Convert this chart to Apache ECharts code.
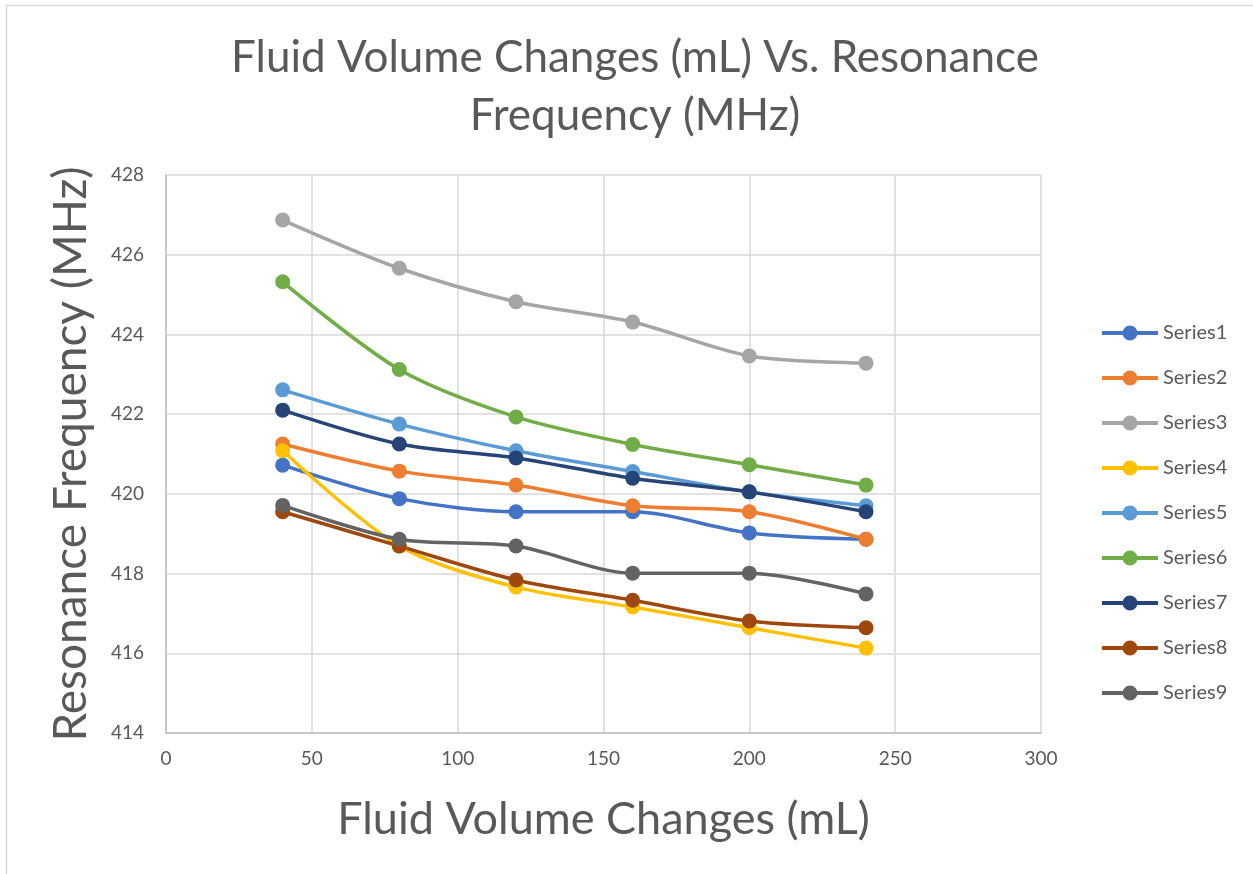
<!DOCTYPE html>
<html>
<head>
<meta charset="utf-8">
<script src="https://cdn.jsdelivr.net/npm/echarts@6/dist/echarts.min.js"></script>
<style>
html,body{margin:0;padding:0;background:#fff;}
#chart{width:1253px;height:874px;}
</style>
</head>
<body>
<div id="chart"></div>
<script>
const xValues = [40, 80, 120, 160, 200, 240];
const series1 = [420.72, 419.88, 419.55, 419.55, 419.02, 418.86];
const series2 = [421.25, 420.57, 420.22, 419.70, 419.55, 418.86];
const series3 = [426.87, 425.66, 424.82, 424.31, 423.46, 423.28];
const series4 = [421.08, 418.69, 417.66, 417.16, 416.64, 416.13];
const series5 = [422.61, 421.75, 421.08, 420.56, 420.05, 419.70];
const series6 = [425.32, 423.12, 421.93, 421.24, 420.73, 420.22];
const series7 = [422.10, 421.25, 420.90, 420.39, 420.05, 419.55];
const series8 = [419.55, 418.69, 417.84, 417.33, 416.81, 416.64];
const series9 = [419.71, 418.86, 418.69, 418.01, 418.01, 417.49];
const seriesNames = ['Series1','Series2','Series3','Series4','Series5','Series6','Series7','Series8','Series9'];
const seriesColors = ['#4472C4','#ED7D31','#A5A5A5','#FFC000','#5B9BD5','#70AD47','#264478','#9E480E','#636363'];
const allSeries = [series1, series2, series3, series4, series5, series6, series7, series8, series9];

const FONT = 'Lato, "Open Sans", "Liberation Sans", sans-serif';
// legend icon: a thick line with a round marker in the middle (both drawn clockwise so they merge)
const LEGEND_ICON = 'path://M0,7 L56,7 L56,11 L0,11 Z M20.5,9 A7.5,7.5 0 1,1 35.5,9 A7.5,7.5 0 1,1 20.5,9 Z';
const chart = echarts.init(document.getElementById('chart'), null, {renderer: 'canvas'});

chart.setOption({
  backgroundColor: '#ffffff',
  animation: false,
  textStyle: {fontFamily: FONT},
  graphic: [{
    type: 'rect',
    shape: {x: 6.5, y: 5.5, width: 1260, height: 880},
    style: {fill: 'none', stroke: '#d9d9d9', lineWidth: 1.5},
    silent: true
  }],
  title: {
    text: 'Fluid Volume Changes (mL) Vs. Resonance\nFrequency (MHz)',
    left: 630,
    top: 24,
    textAlign: 'center',
    textStyle: {fontFamily: FONT, fontSize: 44, fontWeight: 'normal', color: '#595959', lineHeight: 58}
  },
  legend: {
    orient: 'vertical',
    left: 1097,
    top: 318,
    itemWidth: 56,
    itemHeight: 18,
    itemGap: 25,
    icon: LEGEND_ICON,
    data: seriesNames.map(n => ({name: n})),
    textStyle: {fontFamily: FONT, fontSize: 20, color: '#595959'}
  },
  grid: {left: 166, right: 212, top: 175, bottom: 141, containLabel: false},
  xAxis: {
    type: 'value',
    min: 0, max: 300, interval: 50,
    name: 'Fluid Volume Changes (mL)',
    nameLocation: 'middle',
    nameGap: 64,
    nameTextStyle: {fontFamily: FONT, fontSize: 45, color: '#595959'},
    axisLine: {show: true, lineStyle: {color: '#bfbfbf', width: 1.5}},
    axisTick: {show: false},
    axisLabel: {fontFamily: FONT, fontSize: 19, color: '#595959', margin: 16},
    splitLine: {show: true, lineStyle: {color: '#d9d9d9', width: 1.5}}
  },
  yAxis: {
    type: 'value',
    min: 414, max: 428, interval: 2,
    name: 'Resonance Frequency (MHz)',
    nameLocation: 'middle',
    nameGap: 72,
    nameTextStyle: {fontFamily: FONT, fontSize: 46, color: '#595959'},
    axisLine: {show: true, lineStyle: {color: '#bfbfbf', width: 1.5}},
    axisTick: {show: false},
    axisLabel: {fontFamily: FONT, fontSize: 19, color: '#595959', margin: 22},
    splitLine: {show: true, lineStyle: {color: '#d9d9d9', width: 1.5}}
  },
  series: allSeries.map((vals, i) => ({
    name: seriesNames[i],
    type: 'line',
    data: xValues.map((x, j) => [x, vals[j]]),
    smooth: 0.3,
    symbol: 'circle',
    symbolSize: 15,
    color: seriesColors[i],
    lineStyle: {width: 3.5, color: seriesColors[i]},
    itemStyle: {color: seriesColors[i]}
  }))
});
</script>
</body>
</html>
